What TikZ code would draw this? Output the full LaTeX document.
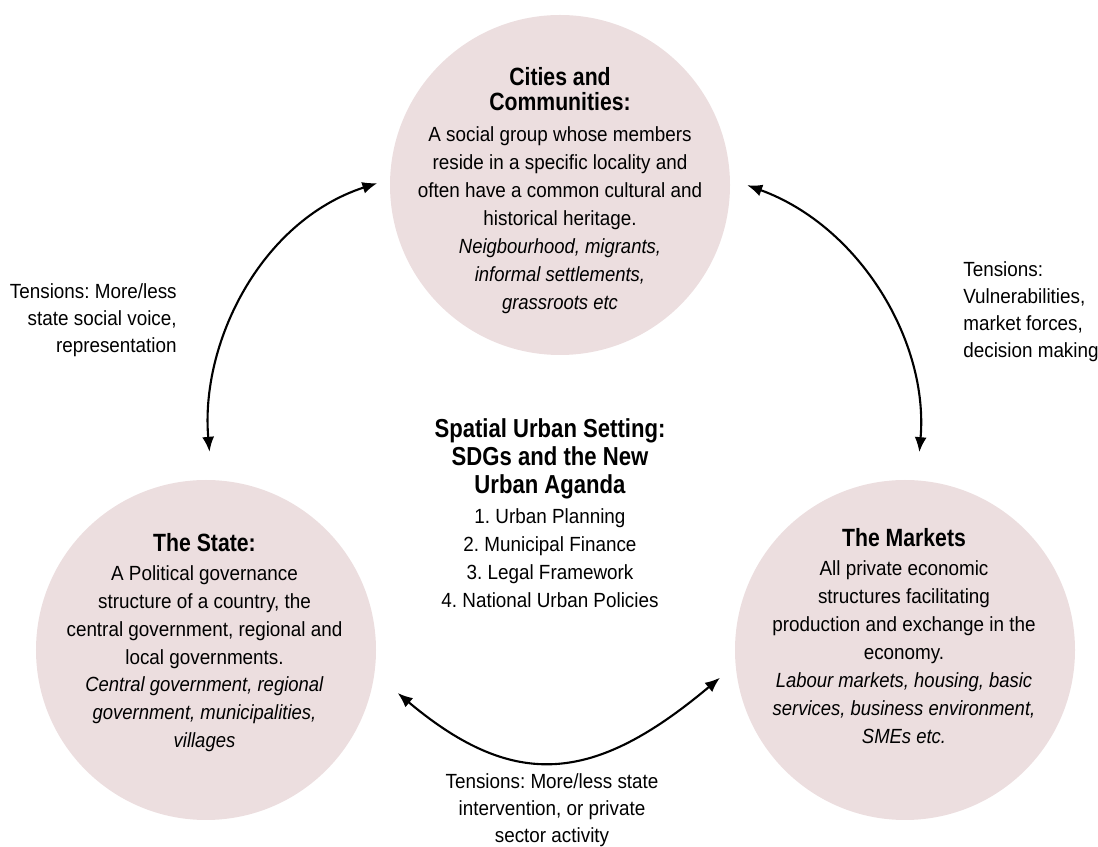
\documentclass[tikz,border=0pt]{standalone}
\usepackage{fontspec}
\setmainfont{Liberation Sans}[
  UprightFeatures={FakeStretch=0.92},
  BoldFeatures={FakeStretch=0.85},
  ItalicFeatures={FakeStretch=0.9}]
\usetikzlibrary{arrows.meta,positioning}
\definecolor{hubpink}{RGB}{236,222,223}
\frenchspacing

\begin{document}
\begin{tikzpicture}[>={Latex[length=0.3cm,width=0.24cm]},
  hub/.style={circle, fill=hubpink, minimum size=6.8cm, inner sep=0pt},
  hubhead/.style={align=center, inner sep=0pt, font=\fontsize{14.2}{14.2}\selectfont\bfseries},
  settinghead/.style={align=center, inner sep=0pt, font=\fontsize{14.8}{15.93}\selectfont\bfseries},
  blurb/.style={align=center, inner sep=0pt, font=\fontsize{11.67}{15.93}\selectfont},
  strain/.style={inner sep=0pt, font=\fontsize{11.67}{15.36}\selectfont},
  tielink/.style={<->, line width=1.2pt}]
\useasboundingbox (0,0) rectangle (21.96,16.94);
\node[hub] (cities) at (11.2, 13.24) {};
\node[hub] (state) at (4.12, 3.94) {};
\node[hub] (markets) at (18.1, 3.94) {};
\node[hubhead] (citiesHead) at (11.2, 15.15) {Cities and\\Communities:};
\node[blurb, below=8.5pt of citiesHead] (citiesText) {A social group whose members\\reside in a specific locality and\\often have a common cultural and\\historical heritage.\\
  \textit{Neigbourhood, migrants,}\\\textit{informal settlements,}\\\textit{grassroots etc}};
\node[hubhead] (stateHead) at (4.09, 6.08) {The State:};
\node[blurb, below=7pt of stateHead] (stateText) {A Political governance\\structure of a country, the\\central government, regional and\\local governments.\\
  \textit{Central government, regional}\\\textit{government, municipalities,}\\\textit{villages}};
\node[hubhead] (marketsHead) at (18.08, 6.18) {The Markets};
\node[blurb, below=7.5pt of marketsHead] (marketsText) {All private economic\\structures facilitating\\production and exchange in the\\economy.\\
  \textit{Labour markets, housing, basic}\\\textit{services, business environment,}\\\textit{SMEs etc.}};
\node[settinghead] (settingHead) at (11.0, 7.77) {Spatial Urban Setting:\\SDGs and the New\\Urban Aganda};
\node[blurb, below=5.5pt of settingHead] (settingText) {1. Urban Planning\\2. Municipal Finance\\3. Legal Framework\\4. National Urban Policies};
\node[strain, anchor=east, align=right] (voice) at (3.54, 10.54) {Tensions: More/less\\state social voice,\\representation};
\node[strain, anchor=west, align=left] (forces) at (19.26, 10.70) {Tensions:\\Vulnerabilities,\\market forces,\\decision making};
\node[strain, align=center] (intervention) at (11.04, 0.74) {Tensions: More/less state\\intervention, or private\\sector activity};
\draw [tielink, shorten <=0.56cm, shorten >=0.26cm] (state.88) to[out=95, in=198] (cities.178);
\draw [tielink, shorten <=0.36cm, shorten >=0.56cm] (cities.2) to[out=-20, in=85] (markets.86);
\draw [tielink, shorten <=0.6cm, shorten >=0.4cm] (state.-8) to[out=-40, in=220, looseness=1.3] (markets.185);
\end{tikzpicture}
\end{document}
